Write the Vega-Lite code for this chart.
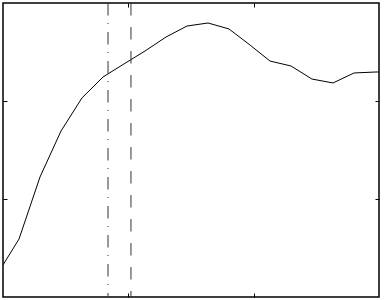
{
  "$schema": "https://vega.github.io/schema/vega-lite/v6.json",
  "width": 376,
  "height": 294,
  "padding": {"left": 3, "top": 3, "right": 5, "bottom": 3},
  "autosize": {"type": "none"},
  "background": "white",
  "config": {
    "view": {"stroke": "#000000", "strokeWidth": 1.5},
    "axis": {"labels": false, "title": null, "domain": false, "grid": false, "ticks": true, "tickSize": -4, "tickColor": "#000000", "tickWidth": 1}
  },
  "datasets": {
    "curve": [
      {"x": 0.0, "y": 0.327},
      {"x": 0.128, "y": 0.592},
      {"x": 0.295, "y": 1.224},
      {"x": 0.463, "y": 1.694},
      {"x": 0.63, "y": 2.031},
      {"x": 0.798, "y": 2.245},
      {"x": 0.965, "y": 2.378},
      {"x": 1.133, "y": 2.51},
      {"x": 1.301, "y": 2.653},
      {"x": 1.468, "y": 2.765},
      {"x": 1.636, "y": 2.796},
      {"x": 1.803, "y": 2.735},
      {"x": 1.971, "y": 2.571},
      {"x": 2.13, "y": 2.408},
      {"x": 2.298, "y": 2.357},
      {"x": 2.465, "y": 2.224},
      {"x": 2.633, "y": 2.184},
      {"x": 2.801, "y": 2.286},
      {"x": 2.976, "y": 2.296},
      {"x": 3.0, "y": 2.296}
    ],
    "dashdot": [{"x": 0.838}],
    "dashed": [{"x": 1.021}]
  },
  "resolve": {"axis": {"x": "independent", "y": "independent"}},
  "layer": [
    {
      "data": {"name": "curve"},
      "mark": {"type": "line", "color": "#000000", "strokeWidth": 1, "clip": true},
      "encoding": {
        "x": {"field": "x", "type": "quantitative", "scale": {"domain": [0, 3], "nice": false, "zero": false}, "axis": {"orient": "bottom", "values": [1, 2]}},
        "y": {"field": "y", "type": "quantitative", "scale": {"domain": [0, 3], "nice": false, "zero": false}, "axis": {"orient": "left", "values": [1, 2]}}
      }
    },
    {
      "data": {"name": "curve"},
      "mark": {"type": "point", "opacity": 0},
      "encoding": {
        "x": {"field": "x", "type": "quantitative", "axis": {"orient": "top", "values": [1, 2]}},
        "y": {"field": "y", "type": "quantitative", "axis": {"orient": "right", "values": [1, 2]}}
      }
    },
    {
      "data": {"name": "dashdot"},
      "mark": {"type": "rule", "color": "#333333", "strokeWidth": 1, "strokeDash": [12.5, 7.5, 1, 8]},
      "encoding": {
        "x": {"field": "x", "type": "quantitative", "axis": null}
      }
    },
    {
      "data": {"name": "dashed"},
      "mark": {"type": "rule", "color": "#333333", "strokeWidth": 1, "strokeDash": [12.5, 11.5]},
      "encoding": {
        "x": {"field": "x", "type": "quantitative", "axis": null}
      }
    }
  ]
}
